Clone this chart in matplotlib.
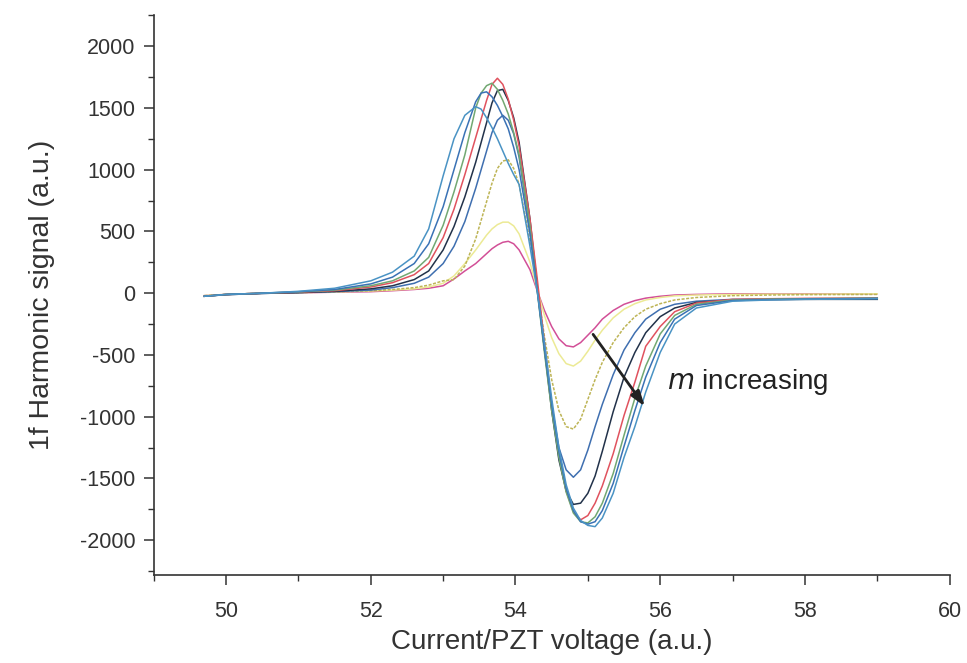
import numpy as np
import matplotlib
matplotlib.use("Agg")
import matplotlib.pyplot as plt
from matplotlib.ticker import MultipleLocator

plt.rcParams['font.family'] = ['Liberation Sans', 'DejaVu Sans']
plt.rcParams['axes.unicode_minus'] = False

# common sampling of the current / PZT voltage axis
x = [49.7, 50.0, 50.5, 51.0, 51.5, 52.0, 52.3, 52.6, 52.8, 53.0,
     53.15, 53.3, 53.45, 53.525, 53.6, 53.675, 53.75, 53.825, 53.9, 53.975,
     54.05, 54.2, 54.3, 54.4, 54.5, 54.6, 54.7, 54.8, 54.9, 55.0,
     55.1, 55.2, 55.35, 55.5, 55.65, 55.8, 56.0, 56.2, 56.5, 57.0,
     57.5, 58.0, 59.0]

# 1f harmonic signal, smallest m first
m1 = [-20, -10, 0, 3, 8, 12, 20, 30, 40, 60,
      115, 180, 240, 280, 320, 360, 390, 412, 420, 400,
      350, 190, 20, -140, -270, -370, -425, -435, -400, -340,
      -280, -210, -140, -90, -60, -40, -25, -15, -10, -5,
      -5, -5, -5]
m2 = [-20, -10, 0, 5, 10, 18, 25, 35, 50, 80,
      140, 240, 350, 410, 470, 520, 555, 575, 575, 545,
      480, 250, 30, -180, -360, -490, -570, -590, -550, -470,
      -380, -300, -200, -130, -85, -55, -35, -22, -15, -10,
      -8, -8, -5]
m3 = [-20, -10, 0, 5, 10, 20, 30, 45, 65, 100,
      110, 220, 440, 590, 740, 890, 1010, 1070, 1080, 1010,
      880, 420, 40, -350, -700, -950, -1080, -1100, -1020, -860,
      -700, -560, -400, -280, -190, -130, -85, -55, -35, -20,
      -15, -12, -10]
m4 = [-25, -12, -2, 5, 12, 25, 45, 80, 130, 240,
      380, 580, 850, 1000, 1150, 1300, 1400, 1440, 1400, 1290,
      1100, 520, 40, -450, -900, -1250, -1430, -1490, -1430, -1270,
      -1080, -900, -660, -460, -320, -210, -130, -90, -65, -50,
      -48, -46, -45]
m5 = [-25, -12, -2, 5, 15, 35, 60, 110, 180, 350,
      540, 780, 1060, 1220, 1380, 1540, 1640, 1650, 1560, 1420,
      1220, 600, 60, -450, -950, -1350, -1600, -1710, -1700, -1620,
      -1480, -1280, -960, -680, -480, -320, -190, -120, -75, -55,
      -52, -50, -50]
m6 = [-25, -10, 0, 8, 20, 50, 85, 150, 240, 450,
      680, 960, 1260, 1410, 1560, 1690, 1740, 1690, 1570, 1400,
      1190, 600, 120, -400, -900, -1300, -1600, -1770, -1835, -1800,
      -1700, -1560, -1300, -990, -720, -430, -270, -150, -80, -50,
      -45, -42, -38]
m7 = [-25, -10, 0, 10, 25, 60, 100, 180, 290, 550,
      820, 1120, 1500, 1620, 1680, 1700, 1650, 1560, 1450, 1300,
      1120, 540, 20, -480, -950, -1330, -1610, -1780, -1850, -1860,
      -1810, -1700, -1460, -1150, -850, -590, -330, -180, -90, -55,
      -48, -45, -40]
m8 = [-25, -10, 0, 12, 30, 75, 130, 240, 400, 700,
      1000, 1300, 1550, 1620, 1630, 1590, 1520, 1430, 1330, 1180,
      1000, 480, 20, -450, -900, -1280, -1580, -1760, -1850, -1870,
      -1850, -1760, -1540, -1240, -950, -680, -400, -210, -100, -60,
      -52, -48, -42]
m9 = [-25, -10, 0, 15, 40, 100, 170, 300, 520, 950,
      1250, 1440, 1510, 1490, 1420, 1340, 1250, 1150, 1050, 960,
      880, 380, 20, -400, -850, -1250, -1550, -1740, -1840, -1880,
      -1890, -1820, -1620, -1330, -1080, -800, -480, -250, -120, -65,
      -55, -50, -45]

curves = [m1, m2, m3, m4, m5, m6, m7, m8, m9]
colors = ['#d24f97', '#ecea95', '#bdb455', '#3f6fb0', '#22324a',
          '#e0525e', '#72a872', '#3a72b5', '#4a93c4']
styles = ['-', '-', (0, (2, 1)), '-', '-', '-', '-', '-', '-']

fig = plt.figure(figsize=(9.67, 6.63), dpi=100)
ax = fig.add_axes([0.159, 0.133, 0.823, 0.844])

for y, c, ls in zip(curves, colors, styles):
    ax.plot(x, y, color=c, ls=ls, lw=1.1)

# arrow and label
ax.annotate('', xy=(55.81, -935), xytext=(55.05, -315),
            arrowprops=dict(arrowstyle='-|>,head_length=0.9,head_width=0.3',
                            color='#222222', lw=2))
ax.text(56.09, -718, '$\\mathit{m}$ increasing', fontsize=20, va='center',
        color='#222222')

ax.set_xlim(49, 60)
ax.set_ylim(-2280, 2250)
ax.xaxis.set_major_locator(MultipleLocator(2))
ax.xaxis.set_minor_locator(MultipleLocator(1))
ax.yaxis.set_major_locator(MultipleLocator(500))
ax.yaxis.set_minor_locator(MultipleLocator(250))

ax.spines['top'].set_visible(False)
ax.spines['right'].set_visible(False)
for s in ['left', 'bottom']:
    ax.spines[s].set_linewidth(1.2)
    ax.spines[s].set_color('#333333')

ax.tick_params(which='major', direction='out', length=7, width=1.1,
               labelsize=15.5, colors='#333333')
ax.tick_params(axis='x', which='major', pad=12)
ax.tick_params(axis='y', which='major', pad=6)
ax.tick_params(which='minor', direction='out', length=4, width=1.0,
               colors='#333333')

ax.set_xlabel('Current/PZT voltage (a.u.)', fontsize=20, color='#333333', labelpad=5)
ax.set_ylabel('1f Harmonic signal (a.u.)', fontsize=20.5, color='#333333', labelpad=18)

plt.savefig('out.png', dpi=100)
